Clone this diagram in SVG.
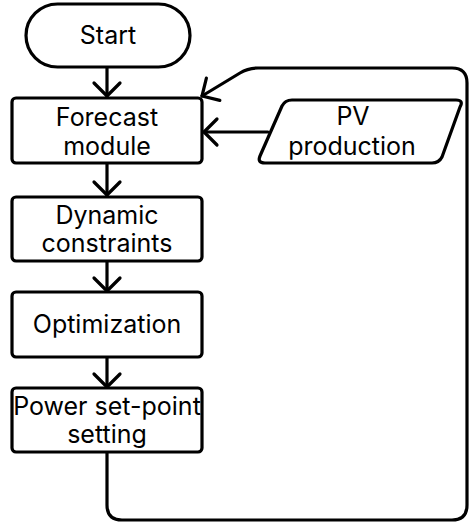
<svg xmlns="http://www.w3.org/2000/svg" width="470" height="524" viewBox="0 0 470 524">
<defs>
<marker id="arr" markerUnits="userSpaceOnUse" markerWidth="30" markerHeight="30" refX="0" refY="0" viewBox="-16 -15 20 30" orient="auto" overflow="visible">
<path d="M-13,-13 L0,0 L-13,13" fill="none" stroke="#000" stroke-width="3.2" stroke-linecap="round" stroke-linejoin="round"/>
</marker>
</defs>
<style>
.box{fill:#fff;stroke:#000;stroke-width:3.2;stroke-linejoin:round}
.t{font-family:Inter,"Liberation Sans",sans-serif;font-size:25px;fill:#000;text-anchor:middle}
.c{fill:none;stroke:#000;stroke-width:3.2;stroke-linejoin:round;stroke-linecap:round;marker-end:url(#arr)}
</style>
<rect width="470" height="524" fill="#fff"/>
<g id="connectors">
<path class="c" d="M107,67 L107,96"/>
<path class="c" d="M107,163 L107,195"/>
<path class="c" d="M107,261 L107,291"/>
<path class="c" d="M107,357 L107,387"/>
<path class="c" d="M268,132 L204,132"/>
<path class="c" d="M107,452 L107,505 Q107,520 122,520 L452,520 Q467,520 467,505 L467,83 Q467,68 452,68 L258,68 Q248,68 240,73 L202,96"/>
</g>
<g id="start">
<rect class="box" x="26" y="4" width="164" height="63" rx="31.5"/>
<text class="t" x="108" y="44">Start</text>
</g>
<g id="forecast">
<rect class="box" x="12" y="98" width="190" height="65" rx="4"/>
<text class="t" x="107" y="126">Forecast</text>
<text class="t" x="107" y="155">module</text>
</g>
<g id="pv">
<path class="box" d="M292,100 L456,100 Q464,100 460,107 L442,157 Q439,163 432,163 L265,163 Q257,163 260,156 L282,106 Q285,100 292,100 Z"/>
<text class="t" x="353" y="125">PV</text>
<text class="t" x="352" y="155">production</text>
</g>
<g id="dynamic">
<rect class="box" x="12" y="197" width="190" height="64" rx="4"/>
<text class="t" x="107" y="224">Dynamic</text>
<text class="t" x="107" y="252">constraints</text>
</g>
<g id="optimization">
<rect class="box" x="12" y="292" width="190" height="65" rx="4"/>
<text class="t" x="107" y="333">Optimization</text>
</g>
<g id="setpoint">
<rect class="box" x="12" y="388" width="190" height="64" rx="4"/>
<text class="t" x="107" y="415">Power set-point</text>
<text class="t" x="107" y="443">setting</text>
</g>
</svg>
